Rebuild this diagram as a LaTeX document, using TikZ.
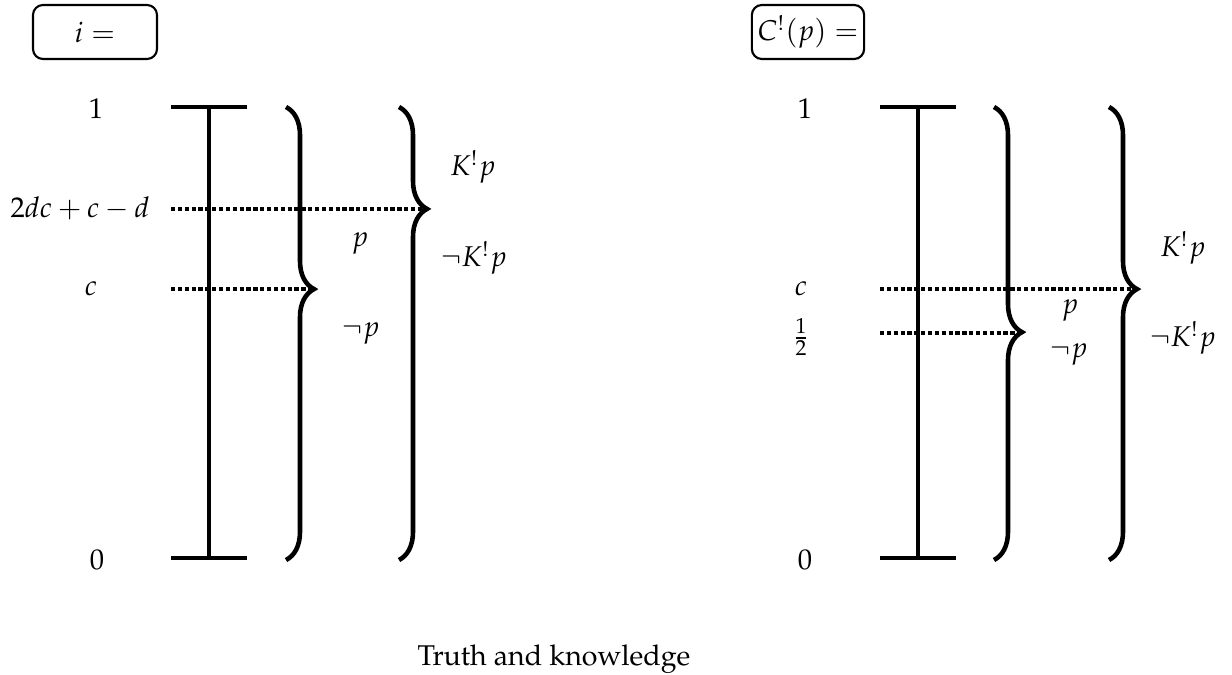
\documentclass[tikz,border=0pt]{standalone}
\usepackage[T1]{fontenc}
\usepackage{mathpazo}
\usetikzlibrary{decorations.pathreplacing}
\begin{document}
\begin{tikzpicture}[x=0.35pt,y=-0.35pt,
  lbl/.style={inner sep=0pt},
  bar/.style={line width=1.6pt},
  dotline/.style={line width=1.6pt, dash pattern=on 1.5pt off 0.9pt},
  brc/.style={line width=1.6pt, decorate, decoration={brace, amplitude=9.8pt, aspect=#1}},
  valbox/.style={draw, line width=0.75pt, rounded corners=3.5pt, minimum height=18.9pt, inner sep=2pt}]
\useasboundingbox (0,0) rectangle (1232,675);

% ---------- left panel ----------
\node[valbox, minimum width=43.4pt] (ibox) at (95,32) {$i=$};
\node[lbl] (lone) at (96,109) {$1$};
\node[lbl] (lval) at (80,208) {$2dc+c-d$};
\node[lbl] (lc) at (91,289) {$c$};
\node[lbl] (lzero) at (97,560) {$0$};

\coordinate (ltl) at (171,107);
\coordinate (ltr) at (247,107);
\coordinate (lbl) at (171,558);
\coordinate (lbr) at (247,558);
\coordinate (lvt) at (209,107);
\coordinate (lvb) at (209,558);
\draw[bar] (ltl) -- (ltr);
\draw[bar] (lbl) -- (lbr);
\draw[bar] (lvt) -- (lvb);

\coordinate (lb1t) at (286,107);
\coordinate (lb1b) at (286,560);
\coordinate (lb1tip) at (314,289);
\coordinate (lb2t) at (399,107);
\coordinate (lb2b) at (399,560);
\coordinate (lb2tip) at (427,209);
\draw[brc=0.402] (lb1t) -- (lb1b);
\draw[brc=0.225] (lb2t) -- (lb2b);

\coordinate (ld1) at (171,289);
\coordinate (ld2) at (171,209);
\draw[dotline] (ld1) -- (lb1tip);
\draw[dotline] (ld2) -- (lb2tip);

\node[lbl] (lp) at (360,244) {$p$};
\node[lbl] (lnp) at (361,334) {$\neg p$};
\node[lbl] (lk) at (473,167) {$K^!p$};
\node[lbl] (lnk) at (474,258) {$\neg K^!p$};

% ---------- right panel ----------
\node[valbox] (cbox) at (808,32) {$C^!(p)=$};
\node[lbl] (rone) at (805,109) {$1$};
\node[lbl] (rc) at (801,289) {$c$};
\node[lbl] (rhalf) at (801,337) {$\frac12$};
\node[lbl] (rzero) at (805,560) {$0$};

\coordinate (rtl) at (880,107);
\coordinate (rtr) at (956,107);
\coordinate (rbl) at (880,558);
\coordinate (rbr) at (956,558);
\coordinate (rvt) at (918,107);
\coordinate (rvb) at (918,558);
\draw[bar] (rtl) -- (rtr);
\draw[bar] (rbl) -- (rbr);
\draw[bar] (rvt) -- (rvb);

\coordinate (rb1t) at (994,107);
\coordinate (rb1b) at (994,560);
\coordinate (rb1tip) at (1022,333);
\coordinate (rb2t) at (1109,107);
\coordinate (rb2b) at (1109,560);
\coordinate (rb2tip) at (1137,289);
\draw[brc=0.497] (rb1t) -- (rb1b);
\draw[brc=0.402] (rb2t) -- (rb2b);

\coordinate (rd1) at (880,333);
\coordinate (rd2) at (880,289);
\draw[dotline] (rd1) -- (rb1tip);
\draw[dotline] (rd2) -- (rb2tip);

\node[lbl] (rp) at (1070,311) {$p$};
\node[lbl] (rnp) at (1069,355) {$\neg p$};
\node[lbl] (rk) at (1183,248) {$K^!p$};
\node[lbl] (rnk) at (1183,338) {$\neg K^!p$};

% ---------- caption ----------
\node[lbl] (cap) at (554,659) {Truth and knowledge};
\end{tikzpicture}
\end{document}
